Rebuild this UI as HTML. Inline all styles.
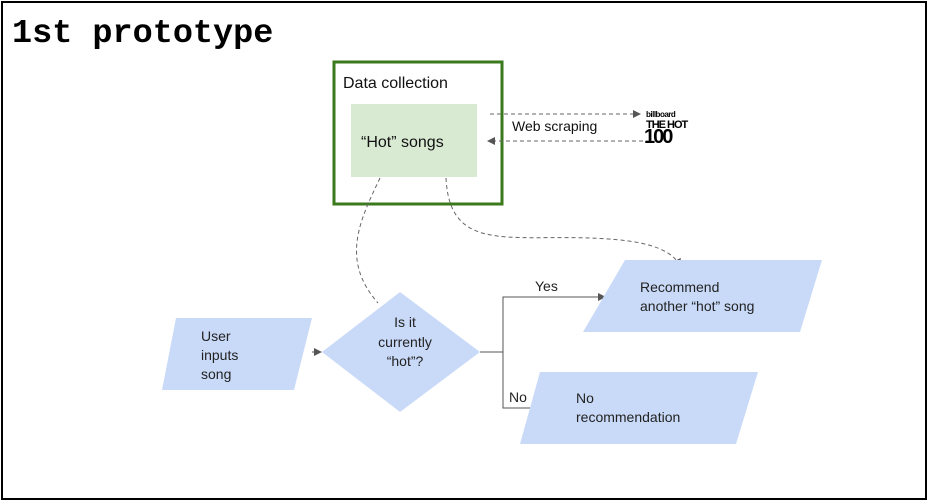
<!DOCTYPE html>
<html><head><style>body{margin:0;background:#fff}svg{display:block}</style></head><body>
<svg width="929" height="503" xmlns="http://www.w3.org/2000/svg" font-family="Liberation Sans, sans-serif">
<defs><marker id="a" markerWidth="8" markerHeight="8" refX="7" refY="4" orient="auto"><path d="M0,0L8,4L0,8z" fill="#555"/></marker></defs>
<rect x="2" y="2" width="924" height="497" fill="#fff" stroke="#000" stroke-width="2"/>
<text x="12" y="42" font-family="Liberation Mono, monospace" font-weight="bold" font-size="33.5">1st prototype</text>
<rect x="334" y="62" width="168" height="142" fill="#fff" stroke="#3a7a1c" stroke-width="3"/>
<text x="343" y="88" font-size="16" fill="#111">Data collection</text>
<rect x="351" y="104" width="126" height="73" fill="#d9ead3"/>
<text x="361" y="147" font-size="16" fill="#111">“Hot” songs</text>
<line x1="490" y1="114" x2="640" y2="114" stroke="#666" stroke-dasharray="4,3" marker-end="url(#a)"/>
<line x1="650" y1="141" x2="488" y2="141" stroke="#666" stroke-dasharray="4,3" marker-end="url(#a)"/>
<text x="512" y="131" font-size="14" fill="#111">Web scraping</text>
<text x="646" y="117" font-size="8" font-weight="bold" letter-spacing="-0.5">billboard</text>
<text x="646" y="128" font-size="11" font-weight="bold" letter-spacing="-1">THE HOT</text>
<text x="644" y="143" font-size="20" font-weight="bold" letter-spacing="-2">100</text>
<path d="M380,178 C360,220 340,260 378,303" fill="none" stroke="#666" stroke-dasharray="4,3"/>
<path d="M446,178 C450,260 520,230 620,240 C660,244 675,255 680,266" fill="none" stroke="#666" stroke-dasharray="4,3" marker-end="url(#a)"/>
<polygon points="176,318 312,318 294,390 162,390" fill="#c9daf8"/>
<text font-size="14" fill="#222"><tspan x="201" y="341">User</tspan><tspan x="201" y="360">inputs</tspan><tspan x="201" y="379">song</tspan></text>
<polygon points="400,292 480,352 400,412 322,352" fill="#c9daf8"/>
<text font-size="14" fill="#222" text-anchor="middle"><tspan x="405" y="327">Is it</tspan><tspan x="405" y="347">currently</tspan><tspan x="405" y="366">“hot”?</tspan></text>
<line x1="312" y1="352" x2="321" y2="352" stroke="#555" marker-end="url(#a)"/>
<path d="M480,352H503V297H605" fill="none" stroke="#555" marker-end="url(#a)"/>
<path d="M503,352V408H541" fill="none" stroke="#555" marker-end="url(#a)"/>
<text x="535" y="291" font-size="14" fill="#222">Yes</text>
<text x="509" y="402" font-size="14" fill="#222">No</text>
<polygon points="625,260 822,260 800,332 583,332" fill="#c9daf8"/>
<text font-size="14" fill="#222"><tspan x="640" y="292">Recommend</tspan><tspan x="640" y="311">another “hot” song</tspan></text>
<polygon points="540,372 758,372 736,444 520,444" fill="#c9daf8"/>
<text font-size="14" fill="#222"><tspan x="576" y="403">No</tspan><tspan x="576" y="422">recommendation</tspan></text>
</svg>
</body></html>
